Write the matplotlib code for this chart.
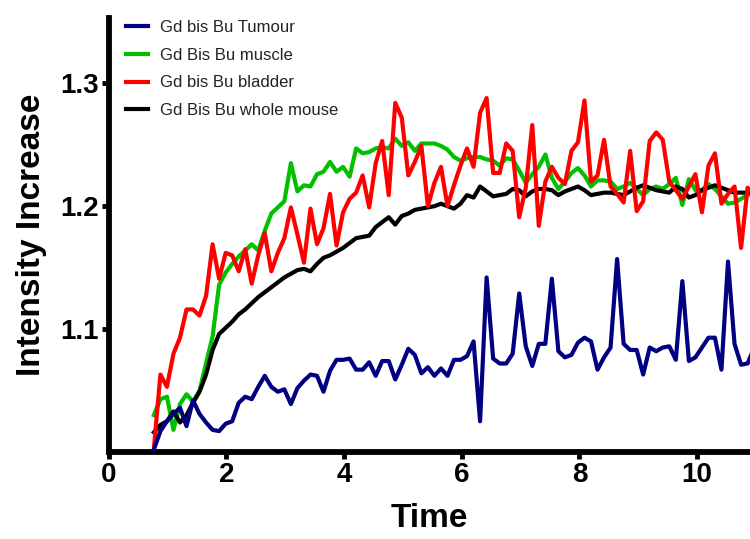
import numpy as np
import matplotlib
matplotlib.use('Agg')
import matplotlib.pyplot as plt

plt.rcParams['font.family'] = ['Liberation Sans', 'DejaVu Sans']

# 測定時間（分）: 0.767 から約 0.111 分おきのサンプリング
time = np.round(0.767 + 0.1109 * np.arange(93), 3)

tumour = [1.002, 1.017, 1.025, 1.031, 1.036, 1.021, 1.042, 1.031, 1.024, 1.018,
          1.017, 1.023, 1.025, 1.040, 1.045, 1.043, 1.053, 1.062, 1.053, 1.049,
          1.051, 1.039, 1.052, 1.058, 1.063, 1.062, 1.049, 1.066, 1.075, 1.075,
          1.076, 1.067, 1.067, 1.073, 1.062, 1.074, 1.074, 1.059, 1.071, 1.084,
          1.079, 1.064, 1.069, 1.062, 1.068, 1.062, 1.075, 1.075, 1.078, 1.090,
          1.025, 1.142, 1.076, 1.072, 1.072, 1.080, 1.129, 1.086, 1.070, 1.088,
          1.088, 1.141, 1.082, 1.077, 1.079, 1.089, 1.093, 1.090, 1.067, 1.077,
          1.085, 1.157, 1.088, 1.083, 1.083, 1.063, 1.085, 1.082, 1.085, 1.086,
          1.075, 1.139, 1.074, 1.077, 1.085, 1.093, 1.093, 1.067, 1.155, 1.088,
          1.071, 1.072, 1.085]

muscle = [1.030, 1.043, 1.045, 1.018, 1.039, 1.047, 1.041, 1.050, 1.072, 1.094,
          1.136, 1.146, 1.153, 1.159, 1.164, 1.169, 1.164, 1.180, 1.194, 1.199,
          1.204, 1.235, 1.212, 1.217, 1.216, 1.226, 1.228, 1.236, 1.228, 1.232,
          1.224, 1.247, 1.243, 1.244, 1.247, 1.248, 1.247, 1.255, 1.249, 1.252,
          1.245, 1.251, 1.251, 1.251, 1.249, 1.246, 1.240, 1.237, 1.239, 1.240,
          1.240, 1.238, 1.237, 1.233, 1.239, 1.238, 1.229, 1.219, 1.226, 1.232,
          1.242, 1.223, 1.214, 1.220, 1.227, 1.231, 1.225, 1.216, 1.221, 1.221,
          1.220, 1.214, 1.216, 1.219, 1.214, 1.209, 1.214, 1.216, 1.214, 1.218,
          1.223, 1.201, 1.222, 1.213, 1.213, 1.218, 1.214, 1.208, 1.202, 1.203,
          1.206, 1.209, 1.211]

bladder = [1.003, 1.063, 1.053, 1.080, 1.093, 1.116, 1.116, 1.111, 1.127, 1.169,
           1.141, 1.162, 1.160, 1.147, 1.165, 1.137, 1.160, 1.178, 1.147, 1.162,
           1.174, 1.199, 1.177, 1.154, 1.198, 1.169, 1.182, 1.210, 1.168, 1.195,
           1.206, 1.211, 1.225, 1.199, 1.235, 1.253, 1.209, 1.284, 1.272, 1.225,
           1.236, 1.249, 1.200, 1.219, 1.232, 1.200, 1.217, 1.233, 1.247, 1.232,
           1.276, 1.288, 1.227, 1.227, 1.251, 1.245, 1.191, 1.215, 1.266, 1.184,
           1.220, 1.232, 1.223, 1.218, 1.245, 1.252, 1.286, 1.220, 1.225, 1.254,
           1.216, 1.210, 1.203, 1.245, 1.196, 1.204, 1.253, 1.260, 1.254, 1.220,
           1.213, 1.206, 1.216, 1.226, 1.195, 1.233, 1.243, 1.202, 1.210, 1.216,
           1.166, 1.215, 1.210]

whole_mouse = [1.016, 1.022, 1.025, 1.033, 1.024, 1.030, 1.040, 1.049, 1.063, 1.083,
               1.096, 1.101, 1.106, 1.112, 1.116, 1.121, 1.126, 1.130, 1.134, 1.138,
               1.142, 1.145, 1.148, 1.149, 1.147, 1.153, 1.158, 1.160, 1.163, 1.166,
               1.170, 1.174, 1.175, 1.176, 1.183, 1.187, 1.191, 1.185, 1.192, 1.194,
               1.197, 1.198, 1.199, 1.200, 1.202, 1.200, 1.198, 1.202, 1.209, 1.207,
               1.216, 1.212, 1.208, 1.209, 1.210, 1.214, 1.213, 1.208, 1.212, 1.214,
               1.214, 1.213, 1.209, 1.212, 1.214, 1.216, 1.213, 1.209, 1.210, 1.211,
               1.211, 1.210, 1.209, 1.212, 1.215, 1.217, 1.215, 1.213, 1.212, 1.211,
               1.216, 1.214, 1.207, 1.209, 1.213, 1.215, 1.217, 1.215, 1.213, 1.211,
               1.211, 1.211, 1.212]

labels = ['Gd bis Bu Tumour', 'Gd Bis Bu muscle', 'Gd bis Bu bladder', 'Gd Bis Bu whole mouse']
x_ticks = [0, 2, 4, 6, 8, 10]
y_ticks = [1.1, 1.2, 1.3]

fig = plt.figure(figsize=(7.5, 5.39), dpi=100)
ax = fig.add_axes([0.145, 0.1614, 0.855, 0.805])

lw = 3.0
h_t, = ax.plot(time, tumour, color='#000080', lw=lw, zorder=5)
h_m, = ax.plot(time, muscle, color='#00c000', lw=lw, zorder=2)
h_b, = ax.plot(time, bladder, color='#ff0000', lw=lw, zorder=4)
h_w, = ax.plot(time, whole_mouse, color='black', lw=lw, zorder=3)

ax.set_xlim(0, 10.9)
ax.set_ylim(1.0, 1.353)
ax.set_xticks(x_ticks)
ax.set_yticks(y_ticks)
ax.set_yticklabels([f'{v:.1f}' for v in y_ticks])

for s in ['top', 'right']:
    ax.spines[s].set_visible(False)
for s in ['left', 'bottom']:
    ax.spines[s].set_linewidth(4.2)
ax.tick_params(width=3.5, length=5, direction='out', pad=2,
               labelsize=20)
for lab in ax.get_xticklabels() + ax.get_yticklabels():
    lab.set_fontweight('bold')

ax.set_xlabel('Time', fontsize=24, fontweight='bold', labelpad=11)
ax.set_ylabel('Intensity Increase', fontsize=24, fontweight='bold', labelpad=10)

leg = ax.legend([h_t, h_m, h_b, h_w], labels, loc='upper left',
                bbox_to_anchor=(0.017, 1.011), frameon=False, fontsize=12,
                handlelength=1.3, handletextpad=0.7, labelspacing=0.76,
                borderaxespad=0)
for t in leg.get_texts():
    t.set_color('#222222')
for l in leg.get_lines():
    l.set_linewidth(3.0)

fig.savefig('out.png', dpi=100)
